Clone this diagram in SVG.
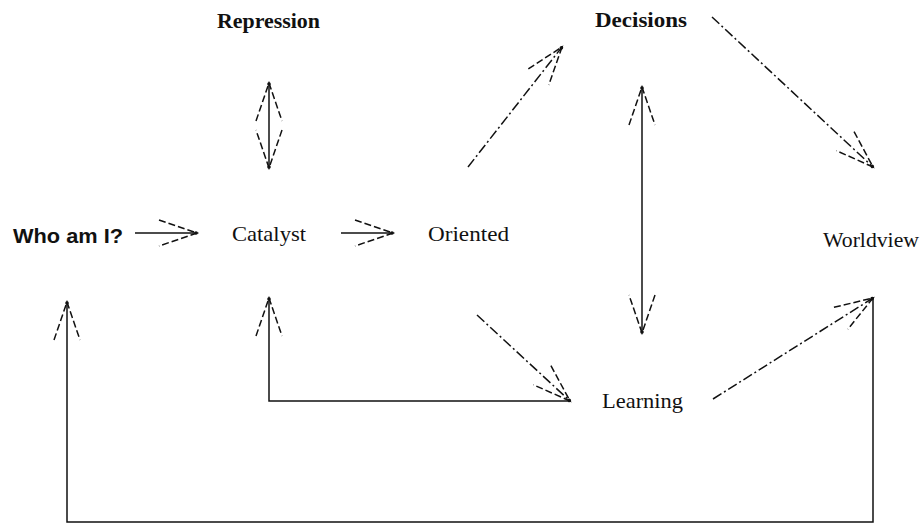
<svg xmlns="http://www.w3.org/2000/svg" width="924" height="525" viewBox="0 0 924 525">
<style>
.lbl{font-family:"Liberation Serif","Times New Roman",serif;font-size:22px;fill:#111}
.b{font-weight:bold}
.sans{font-family:"Liberation Sans",Arial,sans-serif;font-weight:bold;font-size:21px;fill:#111}
.c{fill:none;stroke:#111;stroke-width:1.5}
.dd{stroke-dasharray:10 3 2 3}
</style>
<defs>
<marker id="ah" markerUnits="userSpaceOnUse" markerWidth="60" markerHeight="40" viewBox="-45 -20 50 40" refX="0" refY="0" orient="auto-start-reverse" overflow="visible">
<path d="M-38,-13 L0,0 L-38,13" fill="none" stroke="#111" stroke-width="1.5" stroke-dasharray="7 3"/>
<circle cx="-1" cy="0" r="1.8" fill="#111"/>
</marker>
</defs>
<g id="connectors">
<line class="c" x1="135" y1="233" x2="197" y2="233" marker-end="url(#ah)"/>
<line class="c" x1="341" y1="233" x2="393" y2="233" marker-end="url(#ah)"/>
<line class="c" x1="269" y1="168" x2="269" y2="83" marker-start="url(#ah)" marker-end="url(#ah)"/>
<line class="c dd" x1="468" y1="167" x2="562" y2="47" marker-end="url(#ah)"/>
<line class="c dd" x1="712" y1="17" x2="873" y2="167" marker-end="url(#ah)"/>
<line class="c" x1="642" y1="87" x2="642" y2="333" marker-start="url(#ah)" marker-end="url(#ah)"/>
<line class="c dd" x1="477" y1="315" x2="570" y2="401" marker-end="url(#ah)"/>
<polyline class="c" points="570,401 269,401 269,298" marker-end="url(#ah)"/>
<line class="c dd" x1="713" y1="399" x2="873" y2="298" marker-end="url(#ah)"/>
<polyline class="c" points="873,298 873,522 67,522 67,302" marker-end="url(#ah)"/>
</g>
<g id="who"><text class="sans" x="13" y="243" textLength="110" lengthAdjust="spacingAndGlyphs">Who am I?</text></g>
<g id="catalyst"><text class="lbl" x="232" y="241" textLength="74" lengthAdjust="spacingAndGlyphs">Catalyst</text></g>
<g id="oriented"><text class="lbl" x="428" y="241" textLength="81" lengthAdjust="spacingAndGlyphs">Oriented</text></g>
<g id="repression"><text class="lbl b" x="217" y="28" textLength="103" lengthAdjust="spacingAndGlyphs">Repression</text></g>
<g id="decisions"><text class="lbl b" x="595" y="27" textLength="92" lengthAdjust="spacingAndGlyphs">Decisions</text></g>
<g id="worldview"><text class="lbl" x="823" y="247" textLength="96" lengthAdjust="spacingAndGlyphs">Worldview</text></g>
<g id="learning"><text class="lbl" x="602" y="408" textLength="81" lengthAdjust="spacingAndGlyphs">Learning</text></g>
</svg>
